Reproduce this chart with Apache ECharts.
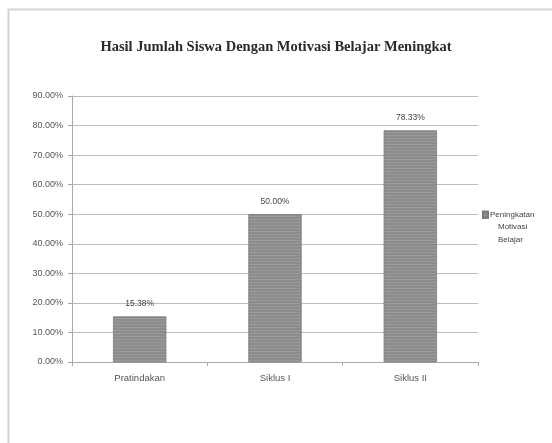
<!DOCTYPE html>
<html>
<head>
<meta charset="utf-8">
<script src="https://cdn.jsdelivr.net/npm/echarts@6/dist/echarts.min.js"></script>
<style>
html,body{margin:0;padding:0;background:#fff;}
#c{width:552px;height:443px;}
</style>
</head>
<body>
<div id="c"></div>
<script>
const categories = ['Pratindakan', 'Siklus I', 'Siklus II'];
const values = [15.38, 50.00, 78.33];
const seriesName = 'Peningkatan Motivasi Belajar';
const legendLines = ['Peningkatan', 'Motivasi', 'Belajar'];
const titleText = 'Hasil Jumlah Siswa Dengan Motivasi Belajar Meningkat';

const chart = echarts.init(document.getElementById('c'), null, {renderer: 'canvas'});
chart.setOption({
  animation: false,
  backgroundColor: '#ffffff',
  graphic: [
    {type: 'rect', shape: {x: 8.5, y: 9.5, width: 560, height: 440}, style: {fill: 'none', stroke: '#d4d4d4', lineWidth: 2}, silent: true}
  ],
  title: {
    text: titleText,
    left: 'center',
    top: 35,
    textStyle: {fontFamily: 'Liberation Serif', fontWeight: 'bold', fontSize: 14.5, color: '#2a2a2a'}
  },
  legend: {
    left: 477,
    top: 187,
    orient: 'vertical',
    itemWidth: 5,
    itemHeight: 6,
    itemGap: 2,
    icon: 'rect',
    formatter: () => '{s| }\n{a|' + legendLines[0] + '}\n{b|' + legendLines[1] + '}\n{b|' + legendLines[2] + '}',
    textStyle: {
      fontFamily: 'Liberation Sans', fontSize: 8, color: '#444',
      rich: {
        s: {lineHeight: 25, fontSize: 8},
        a: {lineHeight: 12.5, fontSize: 8, color: '#444', padding: [0, 0, 0, -3]},
        b: {lineHeight: 12.5, fontSize: 8, color: '#444', padding: [0, 0, 0, 5]}
      }
    },
    data: [seriesName]
  },
  grid: {left: 72, right: 74, top: 96, bottom: 81},
  xAxis: {
    type: 'category',
    data: categories,
    axisLine: {show: true, lineStyle: {color: '#a8a8a8', width: 1}},
    axisTick: {show: true, length: 4, lineStyle: {color: '#a8a8a8'}},
    axisLabel: {fontFamily: 'Liberation Sans', fontSize: 9.5, color: '#555', margin: 11}
  },
  yAxis: {
    type: 'value',
    min: 0, max: 90, interval: 10,
    axisLine: {show: true, lineStyle: {color: '#a8a8a8'}},
    axisTick: {show: true, length: 4, lineStyle: {color: '#a8a8a8'}},
    splitLine: {lineStyle: {color: '#bdbdbd', width: 1}},
    axisLabel: {fontFamily: 'Liberation Sans', fontSize: 9, color: '#555', margin: 9,
      formatter: v => v.toFixed(2) + '%'}
  },
  series: [{
    name: seriesName,
    type: 'bar',
    data: values,
    barWidth: 53,
    itemStyle: {color: '#8c8c8c', borderColor: '#7a7a7a', borderWidth: 0.5,
      decal: {symbol: 'rect', dashArrayX: [1, 0], dashArrayY: [1, 2], rotation: 0, color: 'rgba(255,255,255,0.12)'}},
    label: {show: true, position: 'top', distance: 8, fontFamily: 'Liberation Sans', fontSize: 8.5, color: '#444',
      formatter: p => p.value.toFixed(2) + '%'}
  }]
});
</script>
</body>
</html>
